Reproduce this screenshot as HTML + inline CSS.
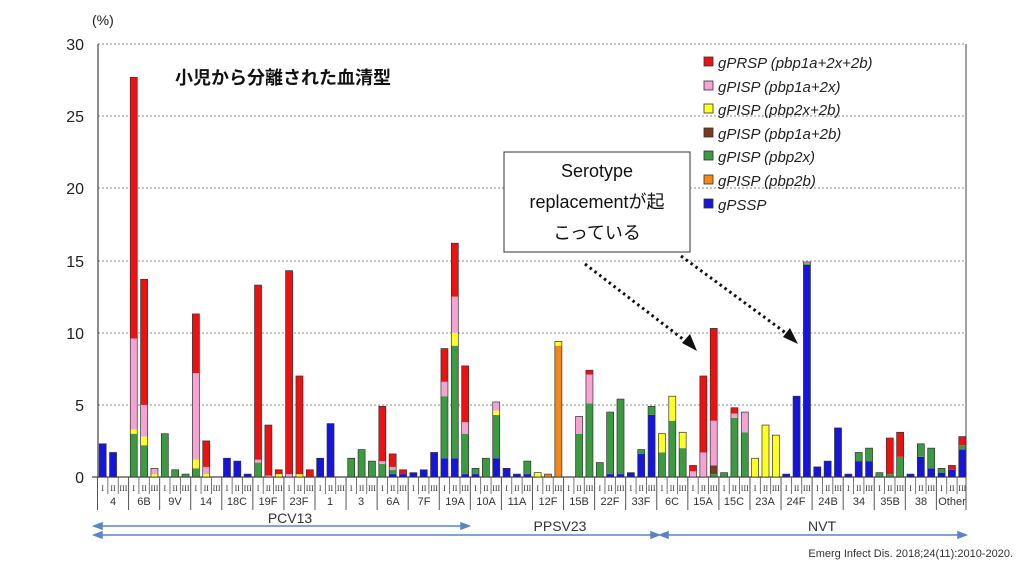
<!DOCTYPE html>
<html><head><meta charset="utf-8">
<style>
html,body{margin:0;padding:0;background:#fff;}
body{width:1024px;height:576px;overflow:hidden;position:relative;font-family:"Liberation Sans","Noto Sans CJK JP",sans-serif;}
svg{position:absolute;left:0;top:0;}
</style></head><body>
<svg id="s" width="1024" height="576" xmlns="http://www.w3.org/2000/svg" font-family="Liberation Sans, Noto Sans CJK JP, sans-serif">
<g stroke="#888" stroke-width="1" stroke-dasharray="2,2">
<line x1="98" y1="44" x2="966" y2="44"/>
<line x1="98" y1="116" x2="966" y2="116"/>
<line x1="98" y1="188" x2="966" y2="188"/>
<line x1="98" y1="261" x2="966" y2="261"/>
<line x1="98" y1="333" x2="966" y2="333"/>
<line x1="98" y1="405" x2="966" y2="405"/>
</g>
<line x1="98" y1="44" x2="98" y2="478" stroke="#444" stroke-width="1.2"/>
<line x1="966" y1="44" x2="966" y2="478" stroke="#444" stroke-width="1"/>
<line x1="92" y1="477" x2="966" y2="477" stroke="#444" stroke-width="1.2"/>
<g font-size="16" fill="#222" text-anchor="end">
<text x="84" y="50">30</text><text x="84" y="122">25</text><text x="84" y="194">20</text>
<text x="84" y="267">15</text><text x="84" y="339">10</text><text x="84" y="411">5</text><text x="84" y="483">0</text>
</g>
<text x="92" y="25" font-size="14" fill="#222">(%)</text>
<text x="175" y="84" font-size="18" font-weight="bold" fill="#111">小児から分離された血清型</text>
<g id="bars"></g>
<g id="axis"></g>
<!-- legend -->
<g font-size="15" font-style="italic" fill="#222">
<rect x="704" y="57" width="9" height="9" fill="#ee1111" stroke="#333" stroke-width="0.8"/><text x="718" y="68">gPRSP (pbp1a+2x+2b)</text>
<rect x="704" y="81" width="9" height="9" fill="#f5a3d3" stroke="#333" stroke-width="0.8"/><text x="718" y="92">gPISP (pbp1a+2x)</text>
<rect x="704" y="104" width="9" height="9" fill="#ffff22" stroke="#333" stroke-width="0.8"/><text x="718" y="115">gPISP (pbp2x+2b)</text>
<rect x="704" y="128" width="9" height="9" fill="#7a3a1c" stroke="#333" stroke-width="0.8"/><text x="718" y="139">gPISP (pbp1a+2b)</text>
<rect x="704" y="151" width="9" height="9" fill="#3c9a40" stroke="#333" stroke-width="0.8"/><text x="718" y="162">gPISP (pbp2x)</text>
<rect x="704" y="175" width="9" height="9" fill="#f38818" stroke="#333" stroke-width="0.8"/><text x="718" y="186">gPISP (pbp2b)</text>
<rect x="704" y="199" width="9" height="9" fill="#1515dd" stroke="#333" stroke-width="0.8"/><text x="718" y="210">gPSSP</text>
</g>
<!-- text box -->
<rect x="504" y="152" width="186" height="100" fill="#fff" stroke="#333" stroke-width="1"/>
<g font-size="18" fill="#111" text-anchor="middle">
<text x="597" y="177">Serotype</text>
<text x="597" y="208">replacementが起</text>
<text x="597" y="239">こっている</text>
</g>
<g stroke="#111" stroke-width="3" stroke-dasharray="2.5,3.5">
<line x1="585" y1="264" x2="688" y2="343"/>
<line x1="681" y1="256" x2="790" y2="336"/>
</g>
<polygon points="697,351 682,343 690,334" fill="#111"/>
<polygon points="798,344 783,337 790,328" fill="#111"/>
<!-- range arrows -->
<g stroke="#5b84c4" stroke-width="1.5" fill="#5b84c4">
<line x1="98" y1="526" x2="464" y2="526"/><polygon points="94,526 102,523 102,529"/><polygon points="469,526 461,523 461,529"/>
<line x1="98" y1="535" x2="654" y2="535"/><polygon points="94,535 102,532 102,538"/><polygon points="659,535 651,532 651,538"/>
<line x1="664" y1="535" x2="962" y2="535"/><polygon points="660,535 668,532 668,538"/><polygon points="966,535 958,532 958,538"/>
</g>
<g font-size="14" fill="#333" text-anchor="middle">
<text x="290" y="523">PCV13</text>
<text x="560" y="531">PPSV23</text>
<text x="822" y="531">NVT</text>
</g>
<text x="1013" y="557" font-size="11" fill="#333" text-anchor="end">Emerg Infect Dis. 2018;24(11):2010-2020.</text>
<g id="names" font-size="11" fill="#333" text-anchor="middle">
<text x="113" y="505">4</text><text x="144" y="505">6B</text><text x="175" y="505">9V</text><text x="206" y="505">14</text>
<text x="237" y="505">18C</text><text x="268" y="505">19F</text><text x="299" y="505">23F</text><text x="330" y="505">1</text>
<text x="361" y="505">3</text><text x="393" y="505">6A</text><text x="424" y="505">7F</text><text x="455" y="505">19A</text>
<text x="486" y="505">10A</text><text x="517" y="505">11A</text><text x="548" y="505">12F</text><text x="579" y="505">15B</text>
<text x="610" y="505">22F</text><text x="641" y="505">33F</text><text x="672" y="505">6C</text><text x="703" y="505">15A</text>
<text x="734" y="505">15C</text><text x="765" y="505">23A</text><text x="796" y="505">24F</text><text x="828" y="505">24B</text>
<text x="859" y="505">34</text><text x="890" y="505">35B</text><text x="921" y="505">38</text><text x="952" y="505">Other</text>
</g>
</svg>
<script>
var D=[
["b2.3","b1.7",""],
["g3.0 y0.3 p6.3 r18.1","g2.2 y0.6 p2.2 r8.7","y0.2 p0.4"],
["g3.0","g0.5","g0.2"],
["g0.6 y0.6 p6.0 r4.1","y0.2 p0.5 r1.8",""],
["b1.3","b1.1","b0.2"],
["g1.0 p0.2 r12.1","p0.1 r3.5","y0.2 r0.3"],
["p0.2 r14.1","y0.2 r6.8","r0.5"],
["b1.3","b3.7",""],
["g1.3","g1.9","g1.1"],
["g0.9 p0.2 r3.8","b0.2 g0.3 p0.2 r0.9","b0.2 r0.3"],
["b0.3","b0.5","b1.7"],
["b1.3 g4.3 p1.0 r2.3","b1.3 g7.8 y0.9 p2.5 r3.7","b0.2 g2.8 p0.8 r3.9"],
["b0.2 g0.4","g1.3","b1.3 g3.0 y0.3 p0.6"],
["b0.6","b0.2","b0.2 g0.9"],
["y0.3","o0.2","o9.1 y0.3"],
["","g3.0 p1.2","g5.1 p2.0 r0.3"],
["g1.0","b0.2 g4.3","b0.2 g5.2"],
["b0.3","b1.6 g0.3","b4.3 g0.6"],
["g1.7 y1.3","g3.9 y1.7","g2.0 y1.1"],
["p0.4 r0.4","p1.7 r5.3","g0.2 n0.6 p3.1 r6.4"],
["g0.3","g4.1 p0.3 r0.4","g3.1 p1.4"],
["y1.3","y3.6","y2.9"],
["b0.2","b5.6","b14.7 g0.1 p0.1"],
["b0.7","b1.1","b3.4"],
["b0.2","b1.1 g0.6","b1.1 g0.9"],
["g0.3","g0.2 r2.5","g1.4 r1.7"],
["b0.2","b1.4 g0.9","b0.6 g1.4"],
["b0.3 g0.3","b0.5 r0.3","b1.9 g0.3 r0.6"]
];
var C={b:"#1515dd",o:"#f38818",g:"#3c9a40",n:"#7a3a1c",y:"#ffff22",p:"#f5a3d3",r:"#ee1111"};
var NS="http://www.w3.org/2000/svg",bars=document.getElementById("bars"),ax=document.getElementById("axis");
var Y0=477,K=14.43,G0=97.5,GW=31.07,SW=GW/3;
function el(t,a,p){var e=document.createElementNS(NS,t);for(var k in a)e.setAttribute(k,a[k]);p.appendChild(e);return e;}
var R=["I","II","III"];
for(var g=0;g<28;g++){
  var gx=G0+g*GW;
  el("line",{x1:gx,y1:477,x2:gx,y2:510,stroke:"#555","stroke-width":1},ax);
  for(var s=0;s<3;s++){
    var cx=gx+SW*(s+0.5);
    if(s>0)el("line",{x1:gx+SW*s,y1:477,x2:gx+SW*s,y2:494,stroke:"#555","stroke-width":0.8},ax);
    var t=el("text",{x:cx,y:491,"font-size":8,"font-family":"Liberation Serif, serif","text-anchor":"middle",fill:"#333"},ax);t.textContent=R[s];
    var str=D[g][s];if(!str)continue;
    var y=Y0,tot=0,parts=str.split(" ");
    var top0=Y0;
    parts.forEach(function(p){var c=p[0],v=parseFloat(p.slice(1));var h=v*K;y-=h;
      el("rect",{x:cx-3.5,y:y,width:7,height:h,fill:C[c]},bars);});
    el("rect",{x:cx-3.5,y:y,width:7,height:Y0-y,fill:"none",stroke:"#333","stroke-width":0.7},bars);
  }
}
el("line",{x1:966,y1:477,x2:966,y2:510,stroke:"#555","stroke-width":1},ax);
</script>
</body></html>
